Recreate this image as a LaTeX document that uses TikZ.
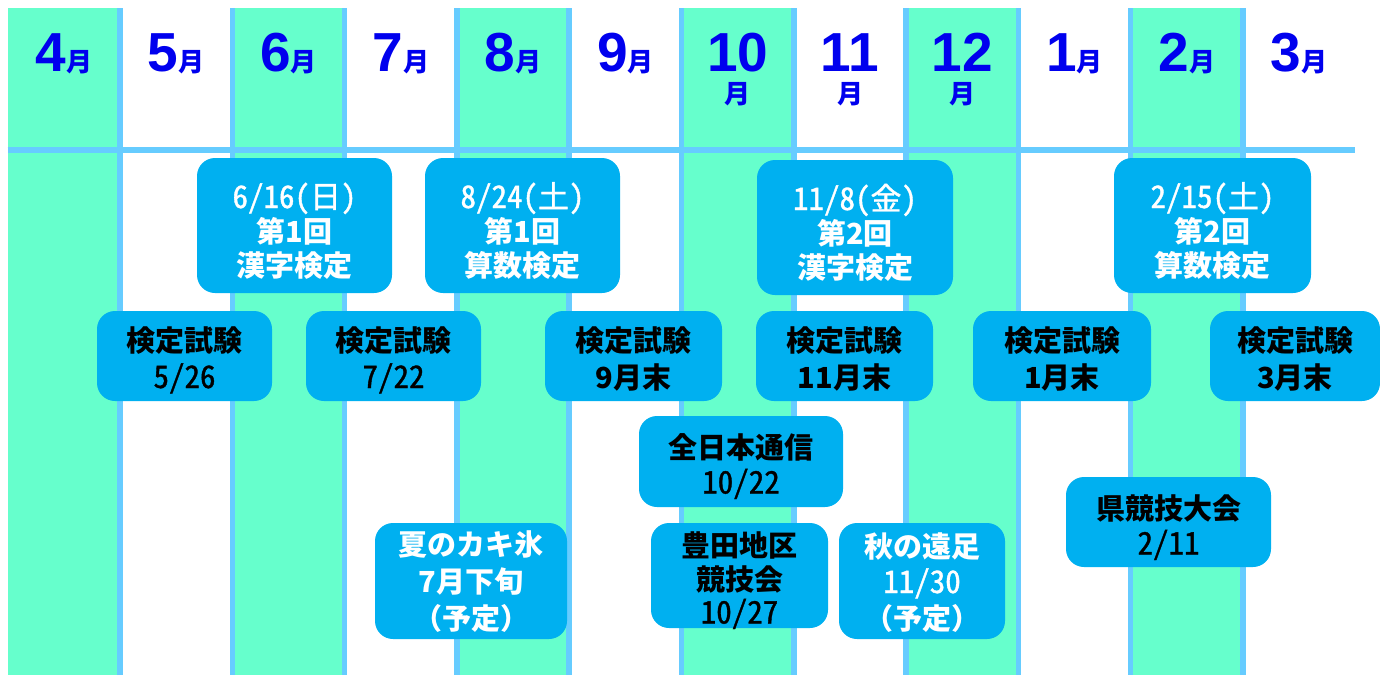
\documentclass[tikz,border=0pt]{standalone}
\usepackage{fontspec}
\setmainfont{Noto Sans CJK JP}
\newfontfamily\zifferfont{Liberation Sans}
\newfontfamily\datumfont[RawFeature=+hwid, FakeBold=1.2]{Noto Sans CJK JP}

\definecolor{spaltegruen}{RGB}{102,255,204}
\definecolor{linieblau}{RGB}{102,204,255}
\definecolor{kastenblau}{RGB}{0,176,240}
\definecolor{monatblau}{RGB}{0,0,238}

\newcommand\tsuki{{\normalfont\bfseries\fontsize{26}{26}\selectfont 月}}
\newcommand\datzeile[1]{{\datumfont\mdseries\fontsize{31}{31}\selectfont #1}}

\begin{document}
\begin{tikzpicture}[x=1pt,y=-1pt,
	kasten/.style={fill=kastenblau, rounded corners=18pt, inner sep=0pt, align=center, text depth=0pt, font=\bfseries\fontsize{29}{35}\selectfont},
	weiss/.style={kasten, text=white},
	schwarz/.style={kasten, text=black},
	monat/.style={text=monatblau, inner sep=0pt, anchor=base, font=\zifferfont\bfseries\fontsize{55}{55}\selectfont},
	linie/.style={linieblau, line width=5.5pt}]

	\useasboundingbox (0,0) rectangle (1380,675);

	% Spalten gruen
	\fill[spaltegruen] (7.7,8)    rectangle (120,675);
	\fill[spaltegruen] (232.3,8)  rectangle (344.6,675);
	\fill[spaltegruen] (456.9,8)  rectangle (569.2,675);
	\fill[spaltegruen] (681.5,8)  rectangle (793.8,675);
	\fill[spaltegruen] (906.1,8)  rectangle (1018.4,675);
	\fill[spaltegruen] (1130.7,8) rectangle (1243,675);

	% Linien senkrecht
	\draw[linie] (120,8)    -- ++(0,667);
	\draw[linie] (232.3,8)  -- ++(0,667);
	\draw[linie] (344.6,8)  -- ++(0,667);
	\draw[linie] (456.9,8)  -- ++(0,667);
	\draw[linie] (569.2,8)  -- ++(0,667);
	\draw[linie] (681.5,8)  -- ++(0,667);
	\draw[linie] (793.8,8)  -- ++(0,667);
	\draw[linie] (906.1,8)  -- ++(0,667);
	\draw[linie] (1018.4,8) -- ++(0,667);
	\draw[linie] (1130.7,8) -- ++(0,667);
	\draw[linie] (1243,8)   -- ++(0,667);

	% Linie waagrecht
	\draw[linie] (7.7,150) -- ++(1347.6,0);

	% Monate
	\node[monat] (m4)  at (63.9,71)   {4\tsuki};
	\node[monat] (m5)  at (176.2,71)  {5\tsuki};
	\node[monat] (m6)  at (288.5,71)  {6\tsuki};
	\node[monat] (m7)  at (400.8,71)  {7\tsuki};
	\node[monat] (m8)  at (513.1,71)  {8\tsuki};
	\node[monat] (m9)  at (625.4,71)  {9\tsuki};
	\node[monat] (m10) at (737.7,71)  {10};
	\node[monat] (m11) at (850,71)    {11};
	\node[monat] (m12) at (962.3,71)  {12};
	\node[monat] (m1)  at (1074.6,71) {1\tsuki};
	\node[monat] (m2)  at (1186.9,71) {2\tsuki};
	\node[monat] (m3)  at (1299.2,71) {3\tsuki};
	\node[monat] (m10b) at (737.7,103) {\tsuki};
	\node[monat] (m11b) at (850,103)   {\tsuki};
	\node[monat] (m12b) at (962.3,103) {\tsuki};

	% Kanji- und Rechenpruefungen
	\node[weiss, minimum width=195pt, minimum height=135pt, text height=101pt, font=\bfseries\fontsize{29}{34}\selectfont] (kanji1) at (294.5,225.5) {\datzeile{6/16(日)}\\第1回\\漢字検定};
	\node[weiss, minimum width=195pt, minimum height=135pt, text height=101pt, font=\bfseries\fontsize{29}{34}\selectfont] (sansu1) at (522.5,225.5) {\datzeile{8/24(土)}\\第1回\\算数検定};
	\node[weiss, minimum width=196pt, minimum height=135pt, text height=101pt, font=\bfseries\fontsize{29}{34}\selectfont] (kanji2) at (855,227.5)   {\datzeile{11/8(金)}\\第2回\\漢字検定};
	\node[weiss, minimum width=197pt, minimum height=135pt, text height=101pt, font=\bfseries\fontsize{29}{34}\selectfont] (sansu2) at (1212.5,225.5) {\datzeile{2/15(土)}\\第2回\\算数検定};

	% Testtermine
	\node[schwarz, minimum width=175pt, minimum height=90pt, text height=64pt, font=\bfseries\fontsize{29}{37}\selectfont] (test1) at (184.5,356)  {検定試験\\\datzeile{5/26}};
	\node[schwarz, minimum width=175pt, minimum height=90pt, text height=64pt, font=\bfseries\fontsize{29}{37}\selectfont] (test2) at (393.5,356)  {検定試験\\\datzeile{7/22}};
	\node[schwarz, minimum width=177pt, minimum height=90pt, text height=64pt, font=\bfseries\fontsize{29}{37}\selectfont] (test3) at (633.5,356)  {検定試験\\9月末};
	\node[schwarz, minimum width=177pt, minimum height=90pt, text height=64pt, font=\bfseries\fontsize{29}{37}\selectfont] (test4) at (844.5,356)  {検定試験\\11月末};
	\node[schwarz, minimum width=178pt, minimum height=90pt, text height=64pt, font=\bfseries\fontsize{29}{37}\selectfont] (test5) at (1062,356)   {検定試験\\1月末};
	\node[schwarz, minimum width=170pt, minimum height=90pt, text height=64pt, font=\bfseries\fontsize{29}{37}\selectfont] (test6) at (1295,356)   {検定試験\\3月末};

	% Veranstaltungen
	\node[schwarz, minimum width=204pt, minimum height=91pt, text height=64pt] (tsushin) at (741,461.5)  {全日本通信\\\datzeile{10/22}};
	\node[weiss, minimum width=192pt, minimum height=116pt, text height=96pt, font=\bfseries\fontsize{29}{37}\selectfont] (kakigori) at (471,581)  {夏のカキ氷\\7月下旬\\（予定）};
	\node[schwarz, minimum width=177pt, minimum height=105pt, text height=96pt, font=\bfseries\fontsize{29}{33.5}\selectfont] (toyota) at (739.5,575.5) {豊田地区\\競技会\\\datzeile{10/27}};
	\node[weiss, minimum width=166pt, minimum height=116pt, text height=96pt, font=\bfseries\fontsize{29}{36}\selectfont] (ensoku) at (922,581)   {秋の遠足\\\datzeile{11/30}\\（予定）};
	\node[schwarz, minimum width=205pt, minimum height=90pt, text height=65pt] (kentaikai) at (1168.5,522) {県競技大会\\\datzeile{2/11}};

\end{tikzpicture}
\end{document}
